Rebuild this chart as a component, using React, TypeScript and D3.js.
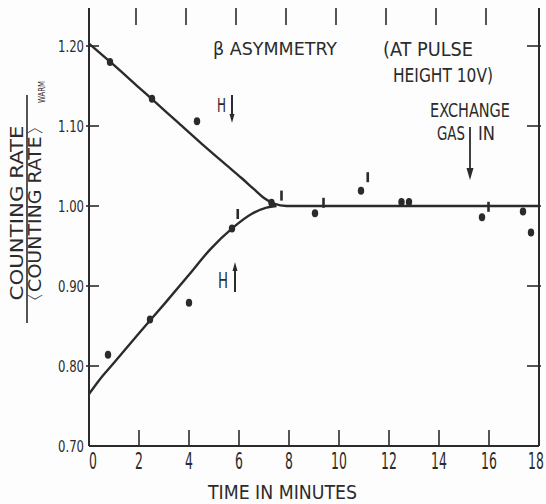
import * as d3 from "d3";

// time in minutes vs counting-rate ratio
const xTicks = [0, 2, 4, 6, 8, 10, 12, 14, 16, 18];
const yTicks = [0.7, 0.8, 0.9, 1.0, 1.1, 1.2];
const yTickLabels = ["0.70", "0.80", "0.90", "1.00", "1.10", "1.20"];
const topTicks = [2, 4, 6, 8, 10, 12, 14, 16];
const rightTicks = [0.8, 0.9, 1.0, 1.1, 1.2];

const upperCurve: [number, number][] = [
  [0, 1.203], [1, 1.176], [2, 1.148], [2.52, 1.1335], [3.5, 1.106],
  [4.5, 1.078], [5.5, 1.051], [6.1, 1.035], [6.6, 1.021], [7.0, 1.01],
  [7.4, 1.003], [7.9, 1.0], [18, 1.0],
];
const lowerCurve: [number, number][] = [
  [0, 0.765], [0.4, 0.782], [1, 0.804], [2, 0.841], [3, 0.877],
  [4, 0.914], [4.84, 0.9455], [5.76, 0.973], [6.5, 0.99], [7.1, 0.998],
  [7.5, 1.0],
];

const upperPts: [number, number][] = [[0.84, 1.18], [2.52, 1.134], [4.32, 1.106]];
const lowerPts: [number, number][] = [[0.76, 0.814], [2.44, 0.858], [4.0, 0.879], [5.72, 0.972]];
const flatPts: [number, number][] = [
  [7.3, 1.004], [9.04, 0.991], [10.88, 1.019], [12.5, 1.005], [12.8, 1.005],
  [15.72, 0.986], [17.36, 0.993], [17.68, 0.967],
];
const errMarks: [number, number][] = [
  [5.95, 0.99], [7.7, 1.013], [9.38, 1.004], [11.15, 1.036], [15.98, 0.999],
];

const W = 546;
const H = 504;
const ink = "#2b2b2b";
const font = "'Liberation Sans Narrow', 'DejaVu Sans Condensed', sans-serif";

export default function App() {
  const x = d3.scaleLinear().domain([0, 18]).range([89, 539]);
  const y = d3.scaleLinear().domain([0.7, 1.2]).range([446, 46]);
  const top = 8;
  const line = d3
    .line<[number, number]>()
    .x((d) => x(d[0]))
    .y((d) => y(d[1]))
    .curve(d3.curveMonotoneX);

  const allPts = [...upperPts, ...lowerPts, ...flatPts];

  return (
    <div style={{ position: "absolute", left: 0, top: 0 }}>
      <svg width={W} height={H} style={{ display: "block", background: "#fdfdfd" }} fontFamily={font}>
        {/* axes */}
        <line x1={x(0)} x2={x(0)} y1={top} y2={y(0.7)} stroke={ink} strokeWidth={2} />
        <line x1={x(18)} x2={x(18)} y1={top} y2={y(0.7)} stroke={ink} strokeWidth={2} />
        <line x1={x(0)} x2={x(18)} y1={y(0.7)} y2={y(0.7)} stroke={ink} strokeWidth={2} />

        {/* left ticks + labels */}
        {yTicks.map((t, i) => (
          <g key={"yl" + t}>
            {i > 0 && <line x1={x(0) - 3} x2={x(0) + 10} y1={y(t)} y2={y(t)} stroke={ink} strokeWidth={1.6} />}
            <text
              x={84}
              y={y(t) + 6}
              textAnchor="end"
              fontSize={16}
              fill={ink}
              textLength={26}
              lengthAdjust="spacingAndGlyphs"
            >
              {yTickLabels[i]}
            </text>
          </g>
        ))}
        {/* right ticks */}
        {rightTicks.map((t) => (
          <line key={"yr" + t} x1={x(18) - 12} x2={x(18) + 2} y1={y(t)} y2={y(t)} stroke={ink} strokeWidth={1.6} />
        ))}
        {/* bottom ticks + labels */}
        {xTicks.map((t) => (
          <g key={"xb" + t}>
            {t > 0 && t < 18 && (
              <line x1={x(t)} x2={x(t)} y1={y(0.7)} y2={y(0.7) - 16} stroke={ink} strokeWidth={1.6} />
            )}
            <text
              transform={`translate(${x(t) + (t === 0 ? 4 : t === 18 ? -3 : 0)},469) scale(0.6,1)`}
              textAnchor="middle"
              fontSize={23}
              fill={ink}
            >
              {t}
            </text>
          </g>
        ))}
        {/* top ticks */}
        {topTicks.map((t) => (
          <line key={"xt" + t} x1={x(t) - 3} x2={x(t) - 3} y1={top} y2={top + 17} stroke={ink} strokeWidth={1.6} />
        ))}

        {/* curves */}
        {[upperCurve, lowerCurve].map((c, i) => (
          <path key={"c" + i} d={line(c) ?? ""} fill="none" stroke={ink} strokeWidth={2.4} />
        ))}

        {/* points */}
        {allPts.map((p, i) => (
          <ellipse key={"p" + i} cx={x(p[0])} cy={y(p[1])} rx={3.2} ry={4} fill={ink} />
        ))}
        {errMarks.map((p, i) => (
          <rect key={"e" + i} x={x(p[0]) - 1.3} y={y(p[1]) - 5} width={2.6} height={10} fill={ink} />
        ))}

        {/* annotations */}
        <text x={213} y={55} fontSize={18} fill={ink} textLength={124} lengthAdjust="spacingAndGlyphs">
          β ASYMMETRY
        </text>
        <text x={383} y={56} fontSize={19} fill={ink} textLength={90} lengthAdjust="spacingAndGlyphs">
          (AT PULSE
        </text>
        <text x={393} y={82} fontSize={19} fill={ink} textLength={100} lengthAdjust="spacingAndGlyphs">
          HEIGHT 10V)
        </text>
        <text x={430} y={117} fontSize={19} fill={ink} textLength={80} lengthAdjust="spacingAndGlyphs">
          EXCHANGE
        </text>
        <text x={437} y={140} fontSize={19} fill={ink} textLength={28} lengthAdjust="spacingAndGlyphs">
          GAS
        </text>
        <text x={478} y={140} fontSize={19} fill={ink} textLength={17} lengthAdjust="spacingAndGlyphs">
          IN
        </text>
        <line x1={470} x2={470} y1={127} y2={172} stroke={ink} strokeWidth={1.8} />
        <path d="M466.5,168 L470,180 L473.5,168 Z" fill={ink} />

        {/* H with spin arrows */}
        <text x={217} y={112} fontSize={20} fill={ink} textLength={9} lengthAdjust="spacingAndGlyphs">H</text>
        <line x1={232} x2={232} y1={95} y2={118} stroke={ink} strokeWidth={2} />
        <path d="M229.5,114 L232,123 L234.5,114 Z" fill={ink} />
        <text x={218} y={288} fontSize={22} fill={ink} textLength={10} lengthAdjust="spacingAndGlyphs">H</text>
        <line x1={235} x2={235} y1={266} y2={292} stroke={ink} strokeWidth={2} />
        <path d="M232.5,271 L235,262 L237.5,271 Z" fill={ink} />

        {/* x label */}
        <text x={208} y={499} fontSize={20} fill={ink} textLength={149} lengthAdjust="spacingAndGlyphs">
          TIME IN MINUTES
        </text>

        {/* y label: fraction */}
        <g transform="translate(0,213) rotate(-90)">
          <text x={0} y={23} textAnchor="middle" fontSize={17} fill={ink} textLength={175} lengthAdjust="spacingAndGlyphs">
            COUNTING RATE
          </text>
          <line x1={-110} x2={118} y1={27} y2={27} stroke={ink} strokeWidth={1.6} />
          <text x={-100} y={41} fontSize={17} fill={ink} textLength={198} lengthAdjust="spacingAndGlyphs">
            〈COUNTING RATE〉
          </text>
          <text x={110} y={45} fontSize={8} fill={ink} textLength={22} lengthAdjust="spacingAndGlyphs">
            WARM
          </text>
        </g>
      </svg>
    </div>
  );
}
